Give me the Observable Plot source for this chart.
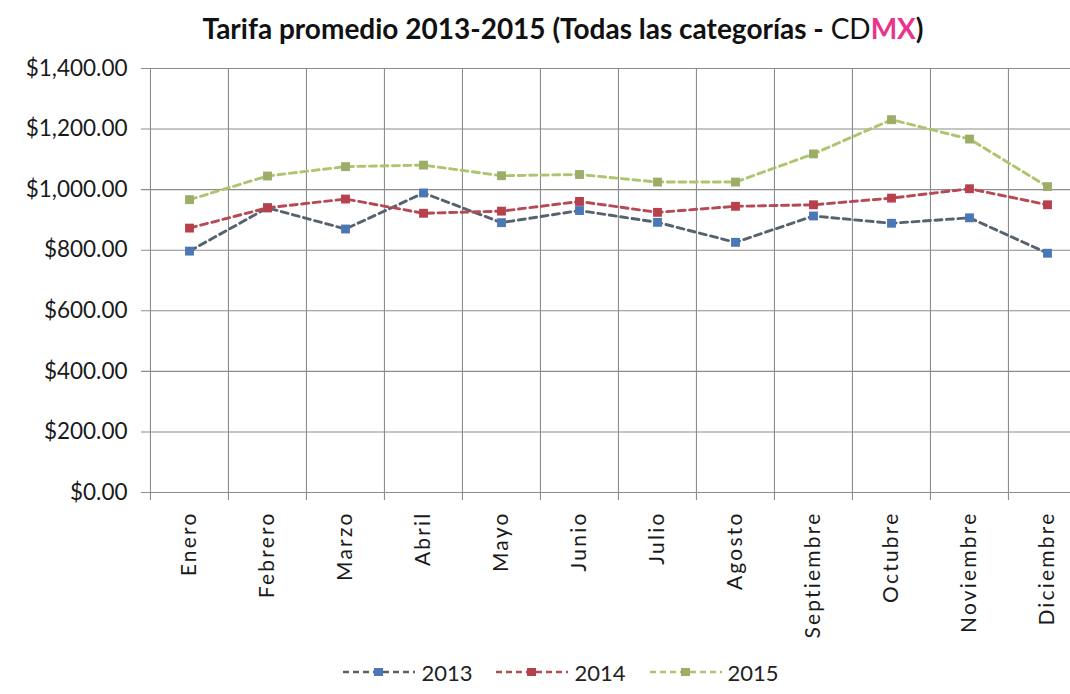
<!DOCTYPE html>
<html>
<head>
<meta charset="utf-8">
<script src="https://cdn.jsdelivr.net/npm/d3@7"></script>
<script src="https://cdn.jsdelivr.net/npm/@observablehq/plot@0.6"></script>
<style>
  html, body { margin: 0; padding: 0; background: #fff; }
  body { width: 1070px; height: 694px; overflow: hidden; font-family: Lato, "Open Sans", sans-serif; color: #1a1a1a; }
  #title { height: 48px; line-height: 56px; text-align: center; font-size: 28px; font-weight: bold; color: #111; padding-left: 56px; box-sizing: border-box; white-space: nowrap; }
  #title .cd { font-weight: normal; }
  #title .mx { color: #e8348a; }
  #chart svg { display: block; overflow: hidden; }
  #chart g[aria-label="x-axis tick label"] text { letter-spacing: 2.2px; }
  #legend { height: 44px; display: flex; justify-content: center; align-items: center; gap: 24px; padding-left: 52px; box-sizing: border-box; font-size: 22px; color: #222; }
  #legend .item { display: flex; align-items: center; gap: 6px; }
</style>
</head>
<body>
<div id="title">Tarifa promedio 2013-2015 (Todas las categorías - <span class="cd">CD</span><span class="mx">MX</span>)</div>
<div id="chart"></div>
<div id="legend"></div>
<script>
const months = ["Enero", "Febrero", "Marzo", "Abril", "Mayo", "Junio", "Julio", "Agosto", "Septiembre", "Octubre", "Noviembre", "Diciembre"];
const years = ["2013", "2014", "2015"];
const values2013 = [797, 940, 870, 989, 891, 931, 892, 826, 913, 889, 907, 790];
const values2014 = [873, 940, 969, 922, 929, 961, 925, 945, 950, 972, 1003, 950];
const values2015 = [967, 1045, 1076, 1081, 1046, 1050, 1025, 1025, 1118, 1231, 1167, 1010];
const yTicks = [0, 200, 400, 600, 800, 1000, 1200, 1400];
const lineColors = ["#56636f", "#b54a55", "#aec46e"];
const markerColors = ["#4a78b6", "#b8404c", "#9cad68"];

const seriesValues = [values2013, values2014, values2015];
const data = years.flatMap((yr, i) => months.map((m, j) => ({year: yr, month: m, value: seriesValues[i][j]})));

const W = 1070, H = 602, left = 149, right = 1086;
const bw = (right - left) / months.length;
const grid = "#8c8c8c";

const marks = [
  Plot.ruleY(yTicks, {y: d => d, stroke: grid, strokeWidth: 1.1, insetLeft: -8}),
  Plot.ruleX(months, {x: d => d, dx: -bw / 2, stroke: grid, strokeWidth: 1.1, insetBottom: -8}),
  Plot.axisY({ticks: yTicks, tickFormat: d3.format("$,.2f"), tickSize: 0, tickPadding: 22, fontSize: 22.5, fill: "#1a1a1a"}),
  Plot.axisX({tickSize: 0, tickRotate: -90, tickPadding: 19, fontSize: 21, fill: "#1a1a1a"})
];
years.forEach((yr, i) => {
  const d = data.filter(r => r.year === yr);
  marks.push(Plot.lineY(d, {x: "month", y: "value", stroke: lineColors[i], strokeWidth: 2.9, strokeDasharray: "7,4.5"}));
});
years.forEach((yr, i) => {
  const d = data.filter(r => r.year === yr);
  marks.push(Plot.dot(d, {x: "month", y: "value", symbol: "square", r: 5, fill: markerColors[i], stroke: "none"}));
});

const chart = Plot.plot({
  width: W,
  height: H,
  marginTop: 20,
  marginBottom: 158,
  marginLeft: left,
  marginRight: 0,
  x: {type: "band", domain: months, range: [left, right], padding: 0, label: null},
  y: {domain: [0, 1400], label: null},
  style: {fontFamily: "Lato, 'Open Sans', sans-serif", background: "#fff", overflow: "hidden"},
  marks
});
document.getElementById("chart").appendChild(chart);

const legend = document.getElementById("legend");
years.forEach((yr, i) => {
  const item = document.createElement("div");
  item.className = "item";
  item.innerHTML = `<svg width="72" height="12"><line x1="0" x2="72" y1="6" y2="6" stroke="${lineColors[i]}" stroke-width="2.5" stroke-dasharray="6,4"/><rect x="31" y="2" width="9" height="8" fill="${markerColors[i]}"/></svg><span>${yr}</span>`;
  legend.appendChild(item);
});
</script>
</body>
</html>
